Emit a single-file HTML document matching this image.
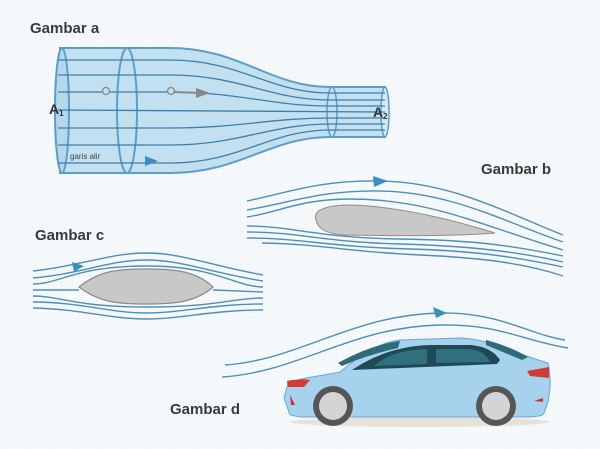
<!DOCTYPE html>
<html><head><meta charset="utf-8"><style>
html,body{margin:0;padding:0;background:#f5f8fa}
svg{display:block}
text{font-family:"Liberation Sans",sans-serif}
</style></head><body>
<svg width="600" height="449" viewBox="0 0 600 449" xmlns="http://www.w3.org/2000/svg">
<defs>
<pattern id="g" width="6" height="6" patternUnits="userSpaceOnUse"><path d="M6 0H0V6" fill="none" stroke="#e8eef2" stroke-width="0.5"/></pattern>
</defs>
<rect width="600" height="449" fill="#f6f9fb"/>
<rect width="600" height="449" fill="url(#g)"/>

<!-- Gambar a -->
<text x="30" y="33" font-size="15" font-weight="bold" fill="#3a3a3a">Gambar a</text>
<path d="M60 48 L170 48 C240 48 270 87 330 87 L385 87 L385 137 L330 137 C270 137 240 173 170 173 L60 173 Z" fill="#c3e0f1" stroke="#5a9fc8" stroke-width="2"/>
<ellipse cx="62" cy="110.5" rx="7" ry="62.5" fill="#b4d7ec" stroke="#5a9fc8" stroke-width="2"/>
<ellipse cx="127" cy="110.5" rx="10" ry="62.5" fill="none" stroke="#5a9fc8" stroke-width="2"/>
<ellipse cx="332" cy="112" rx="5" ry="25" fill="none" stroke="#5a9fc8" stroke-width="1.5"/>
<ellipse cx="385" cy="112" rx="4" ry="25" fill="#d4ebf7" stroke="#5a9fc8" stroke-width="1.5"/>
<g fill="none" stroke="#3f7ea8" stroke-width="1.3">
<path d="M58 60 L170 60 C240 60 270 93 330 93 L385 93"/>
<path d="M58 75 L170 75 C240 75 270 100 330 100 L385 100"/>
<path d="M58 92 L170 92 C240 92 270 106 330 106 L385 106"/>
<path d="M58 110 L385 112"/>
<path d="M58 128 L170 128 C240 128 270 118 330 118 L385 118"/>
<path d="M58 145 L170 145 C240 145 270 124 330 124 L385 124"/>
<path d="M58 163 L170 163 C240 163 270 130 330 130 L385 130"/>
</g>
<circle cx="106" cy="91" r="3.5" fill="#c3e0f1" stroke="#888" stroke-width="1.3"/>
<circle cx="171" cy="91" r="3.5" fill="#c3e0f1" stroke="#888" stroke-width="1.3"/>
<path d="M174 92 L200 93" stroke="#888" stroke-width="2"/>
<path d="M196 88 L210 93 L196 98 Z" fill="#888"/>
<path d="M145 156 L158 161 L145 166 Z" fill="#3b8fc0"/>
<text x="49" y="114" font-size="14" font-weight="bold" fill="#333">A<tspan font-size="8" dy="2">1</tspan></text>
<text x="373" y="117" font-size="14" font-weight="bold" fill="#333">A<tspan font-size="8" dy="2">2</tspan></text>
<text x="70" y="159" font-size="8" fill="#444">garis alir</text>

<!-- Gambar b -->
<text x="481" y="174" font-size="15" font-weight="bold" fill="#3a3a3a">Gambar b</text>
<g fill="none" stroke="#4f8fb5" stroke-width="1.4">
<path d="M247 201 C290 192 320 180 380 181 C450 182 500 210 563 235"/>
<path d="M247 210 C290 203 320 190 380 191 C450 192 500 220 563 242"/>
<path d="M247 217 C280 212 300 199 350 199 C430 199 480 225 563 250"/>
<path d="M247 226 C290 226 320 238 400 239 C470 240 510 245 563 256"/>
<path d="M247 232 C300 232 320 242 400 244 C470 246 520 252 563 262"/>
<path d="M247 238 C300 238 330 247 410 249 C480 251 520 258 563 267"/>
<path d="M262 243 C320 244 350 252 420 255 C490 258 530 265 563 276"/>
</g>
<path d="M373 176 L388 181 L374 187 Z" fill="#3b8fc0"/>
<path d="M316 220 C312 209 330 205 350 205 C400 206 460 222 495 233 C460 236 400 236 345 235 C325 234 318 228 316 220 Z" fill="#c8c8c8" stroke="#9a8a80" stroke-width="1"/>

<!-- Gambar c -->
<text x="35" y="240" font-size="15" font-weight="bold" fill="#3a3a3a">Gambar c</text>
<g fill="none" stroke="#4f8fb5" stroke-width="1.4">
<path d="M33 271 C80 266 110 253 146 253 C182 253 212 266 263 275"/>
<path d="M33 278 C80 274 110 260 146 260 C182 260 212 273 263 281"/>
<path d="M33 284 C60 284 75 266 146 266 C217 266 232 286 263 287"/>
<path d="M33 290 C60 290 70 290 79 290 M213 290 L263 292"/>
<path d="M33 296 C60 296 75 307 146 307 C217 307 232 298 263 298"/>
<path d="M33 302 C80 302 110 313 146 313 C182 313 212 304 263 304"/>
<path d="M33 308 C80 309 110 319 146 319 C182 319 212 310 263 310"/>
</g>
<path d="M72 262 L84 266 L74 272 Z" fill="#3b8fc0"/>
<path d="M79 287 C100 270 120 269 146 269 C172 269 195 270 213 287 C195 303 172 304 146 304 C120 304 100 303 79 287 Z" fill="#c8c8c8" stroke="#8a8a8a" stroke-width="1.2"/>

<!-- Gambar d -->
<text x="170" y="414" font-size="15" font-weight="bold" fill="#3a3a3a">Gambar d</text>
<g fill="none" stroke="#4f8fb5" stroke-width="1.4">
<path d="M225 365 C300 360 350 315 440 313 C500 312 530 335 565 340"/>
<path d="M222 377 C300 372 350 327 440 325 C500 324 520 340 568 348"/>
</g>
<path d="M433 307 L447 313 L436 318 Z" fill="#3b8fc0"/>
<ellipse cx="420" cy="422" rx="130" ry="5" fill="#e6e2da"/>
<path d="M290 415 L284 398 L288 383 C300 378 320 376 340 372 C360 355 380 342 400 340 L460 338 C490 339 510 352 548 363 C552 380 550 400 545 410 C545 416 540 417 520 417 L300 417 Z" fill="#a7d2ee" stroke="#6aa6cf" stroke-width="1"/>
<path d="M338 363 C365 348 385 343 400 341 L398 348 C380 352 360 358 342 366 Z" fill="#2f6a78"/>
<path d="M486 340 C505 345 520 352 528 357 L522 360 C510 355 498 350 486 345 Z" fill="#2f6a78"/>
<path d="M352 370 C370 358 395 346 430 345 L470 345 C485 346 495 352 500 360 L497 364 C450 366 400 368 352 370 Z" fill="#1f4a55"/>
<path d="M374 366 C385 356 400 350 427 349 L427 364 Z" fill="#2f6f7e"/>
<path d="M436 349 L470 349 C480 350 487 355 490 362 L436 363 Z" fill="#2f6f7e"/>
<path d="M287 381 C295 379 305 379 310 380 L304 387 L288 387 Z" fill="#d23a3a"/>
<path d="M527 371 L549 367 L549 378 L530 376 Z" fill="#d23a3a"/>
<path d="M290 395 L295 405 L291 405 Z" fill="#c33"/>
<path d="M534 401 L543 398 L543 402 Z" fill="#c33"/>
<circle cx="333" cy="406" r="20" fill="#555"/>
<circle cx="333" cy="406" r="14" fill="#d4d4d4"/>
<circle cx="496" cy="406" r="20" fill="#555"/>
<circle cx="496" cy="406" r="14" fill="#d4d4d4"/>
</svg>
</body></html>
